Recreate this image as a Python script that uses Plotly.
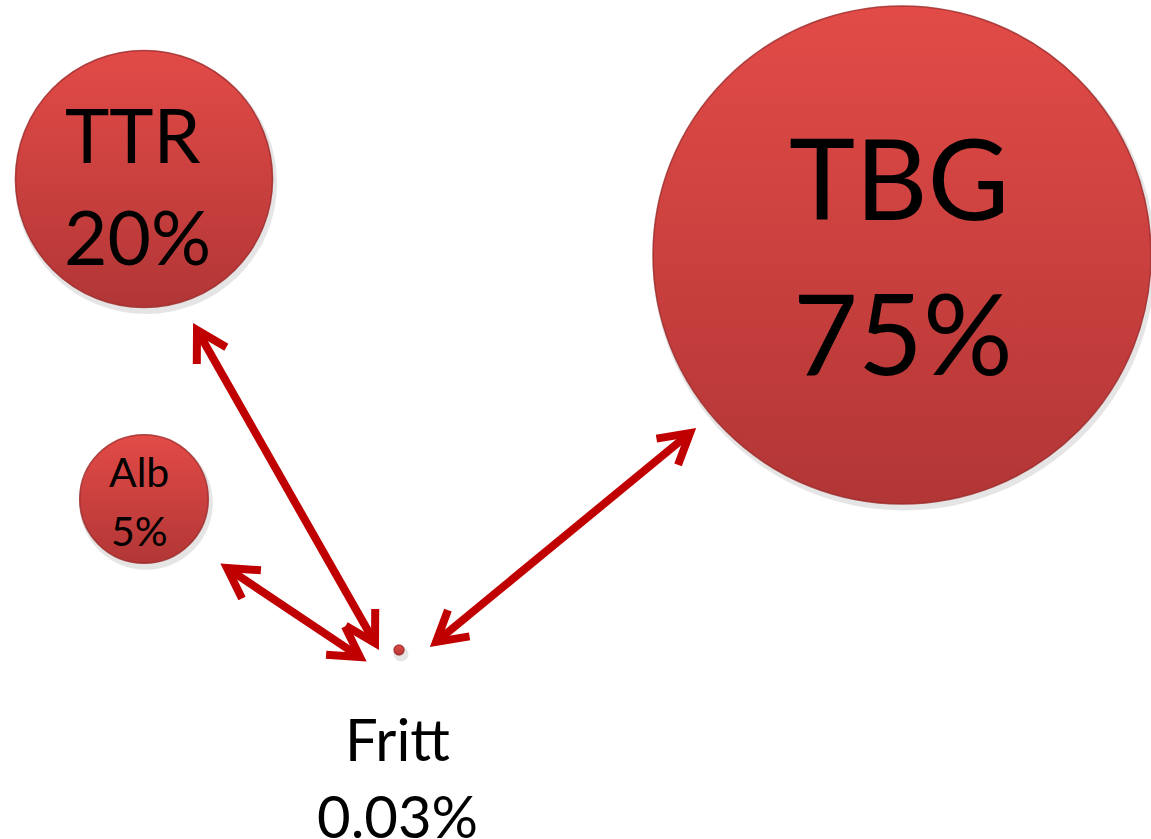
import numpy as np
import plotly.graph_objects as go

# Share of circulating thyroid hormone carried by each binding protein
names = ["TBG", "TTR", "Alb", "Fritt"]
shares = [75, 20, 5, 0.03]
share_labels = ["75%", "20%", "5%", "0.03%"]

# Layout of the bubbles on the canvas (pixel-like units, y grows downward)
cx = [902, 144, 144, 399]
cy = [255, 179, 499, 650]

# Text placement: name line and percentage line
name_xy = [(899, 176), (133, 134), (139, 471), (397, 738)]
pct_xy = [(903, 331), (137, 236), (139, 530), (397, 815)]
font_sizes = [112, 75, 41, 58]

# Double-headed arrows toward the free fraction (two end tips each)
arrows = [
    ((197, 330), (375, 643)),
    ((227, 568), (360, 657)),
    ((690, 433), (436, 642)),
]

W, H = 1151, 839
MAX_D = 498  # diameter of the largest bubble in px
sizeref = 2.0 * max(shares) / MAX_D ** 2
ARROW_RED = "#c00000"
HEAD_LEN = 34
HEAD_ANGLE = np.deg2rad(30)
SHAFT_W = 8

fig = go.Figure()

# soft drop shadow beneath the bubbles
diam = MAX_D * np.sqrt(np.array(shares) / max(shares))
fig.add_trace(go.Scatter(
    x=[x + 2 for x in cx], y=[y + 4 for y in cy], mode="markers",
    marker=dict(size=list(diam + 5), sizemode="diameter", opacity=1,
                color="rgba(0,0,0,0.10)", line=dict(width=0)),
    hoverinfo="skip", showlegend=False,
))

# bubbles, area proportional to the share
fig.add_trace(go.Scatter(
    x=cx, y=cy, mode="markers",
    marker=dict(
        size=shares, sizemode="area", sizeref=sizeref, opacity=1,
        color="#e24b47",
        gradient=dict(type="vertical", color="#b23636"),
        line=dict(width=1.5, color="rgba(155,40,40,0.8)"),
    ),
    text=names, hoverinfo="text", showlegend=False,
))

# arrows: shaft plus an open chevron at each tip
def head_path(tip, other):
    tip = np.array(tip, float)
    back = np.array(other, float) - tip
    back /= np.linalg.norm(back)
    c, s = np.cos(HEAD_ANGLE), np.sin(HEAD_ANGLE)
    w1 = tip + HEAD_LEN * np.array([c * back[0] - s * back[1], s * back[0] + c * back[1]])
    w2 = tip + HEAD_LEN * np.array([c * back[0] + s * back[1], -s * back[0] + c * back[1]])
    return f"M {w1[0]},{w1[1]} L {tip[0]},{tip[1]} L {w2[0]},{w2[1]}"

for a, b in arrows:
    fig.add_shape(type="line", x0=a[0], y0=a[1], x1=b[0], y1=b[1],
                  line=dict(color=ARROW_RED, width=SHAFT_W), layer="above")
    for tip, other in ((a, b), (b, a)):
        fig.add_shape(type="path", path=head_path(tip, other),
                      line=dict(color=ARROW_RED, width=SHAFT_W), layer="above")

FONT = "Lato"
for (nx, ny), (px, py), nm, pct, fs in zip(name_xy, pct_xy, names, share_labels, font_sizes):
    for (tx, ty), txt in (((nx, ny), nm), ((px, py), pct)):
        fig.add_annotation(x=tx, y=ty, text=txt, showarrow=False,
                           xanchor="center", yanchor="middle",
                           font=dict(family=FONT, size=fs, color="black"))

fig.update_layout(
    width=W, height=H,
    margin=dict(l=0, r=0, t=0, b=0),
    paper_bgcolor="white", plot_bgcolor="white",
    xaxis=dict(range=[0, W], visible=False, fixedrange=True),
    yaxis=dict(range=[H, 0], visible=False, fixedrange=True),
    showlegend=False,
)

fig.write_html("out.html")
